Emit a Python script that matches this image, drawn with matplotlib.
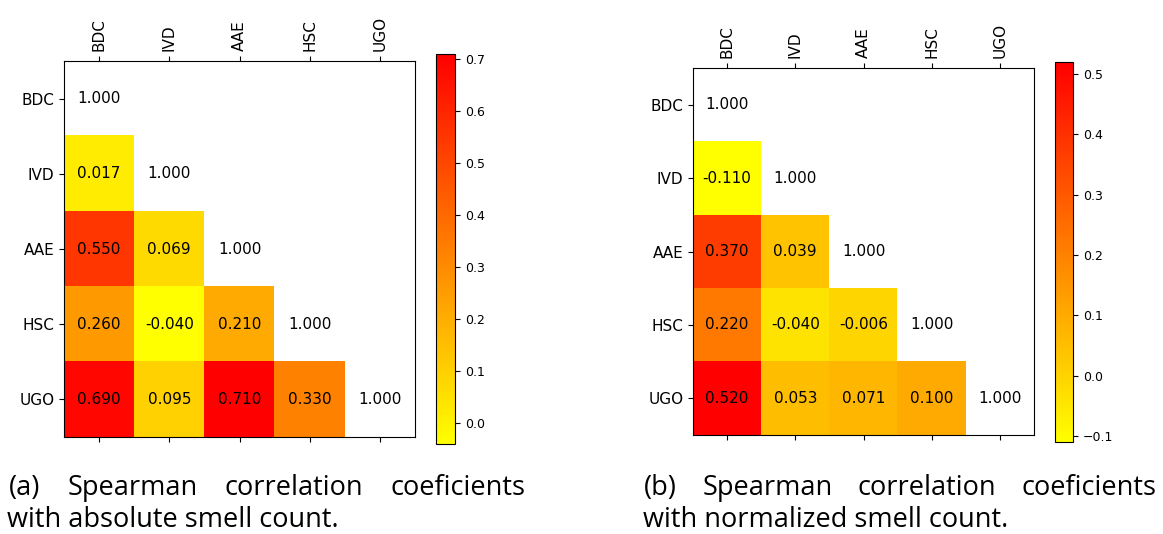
import numpy as np
import matplotlib
matplotlib.use("Agg")
import matplotlib.pyplot as plt

plt.rcParams["font.family"] = ["DejaVu Sans"]

labels = ["BDC", "IVD", "AAE", "HSC", "UGO"]

# lower triangle of the Spearman matrices (row by row, diagonal excluded)
absolute_vals = [
    [0.017],
    [0.550, 0.069],
    [0.260, -0.040, 0.210],
    [0.690, 0.095, 0.710, 0.330],
]
normalized_vals = [
    [-0.110],
    [0.370, 0.039],
    [0.220, -0.040, -0.006],
    [0.520, 0.053, 0.071, 0.100],
]

caption_a = ["(a) Spearman correlation coeficients", "with absolute smell count."]
caption_b = ["(b) Spearman correlation coeficients", "with normalized smell count."]

W, H = 1163, 534


def build_matrix(rows):
    n = len(labels)
    m = np.full((n, n), np.nan)
    for i, row in enumerate(rows, start=1):
        for j, v in enumerate(row):
            m[i, j] = v
    return m


def px_rect(x0, y0, x1, y1):
    return [x0 / W, 1 - y1 / H, (x1 - x0) / W, (y1 - y0) / H]


def draw_heatmap(fig, rows, ax_rect, cb_rect):
    m = build_matrix(rows)
    ax = fig.add_axes(px_rect(*ax_rect))
    cax = fig.add_axes(px_rect(*cb_rect))
    masked = np.ma.masked_invalid(m)
    im = ax.imshow(masked, cmap="autumn_r", aspect="auto",
                   vmin=np.nanmin(m), vmax=np.nanmax(m))
    n = len(labels)
    for i in range(n):
        for j in range(i + 1):
            val = 1.0 if i == j else m[i, j]
            ax.text(j, i, "%.3f" % val, ha="center", va="center", fontsize=11)
    ax.set_xticks(range(n))
    ax.set_yticks(range(n))
    ax.set_xticklabels(labels, rotation=90, fontsize=11)
    ax.set_yticklabels(labels, fontsize=11)
    ax.tick_params(axis="x", top=True, labeltop=True, bottom=True, labelbottom=False)
    cb = fig.colorbar(im, cax=cax)
    cb.ax.tick_params(labelsize=9)
    return ax


def justified(fig, words, x0, x1, y, fontsize):
    renderer = fig.canvas.get_renderer()
    texts = [fig.text(0, 1 - y / H, w, fontsize=fontsize, family="Open Sans",
                      va="baseline", ha="left")
             for w in words]
    widths = [t.get_window_extent(renderer).width for t in texts]
    gap = ((x1 - x0) - sum(widths)) / (len(words) - 1)
    x = x0
    for t, w in zip(texts, widths):
        t.set_x(x / W)
        x += w + gap


fig = plt.figure(figsize=(W / 100, H / 100), dpi=100)

draw_heatmap(fig, absolute_vals, (64, 61, 415, 437), (436, 54, 455, 444))
draw_heatmap(fig, normalized_vals, (693, 68, 1034, 435), (1055, 62, 1073, 442))

fs = 19.5
justified(fig, caption_a[0].split(), 9, 525, 495, fs)
fig.text(7 / W, 1 - 527 / H, caption_a[1], fontsize=fs, family="Open Sans", va="baseline")
justified(fig, caption_b[0].split(), 644, 1157, 495, fs)
fig.text(643 / W, 1 - 527 / H, caption_b[1], fontsize=fs, family="Open Sans", va="baseline")

fig.savefig("out.png", dpi=100)
